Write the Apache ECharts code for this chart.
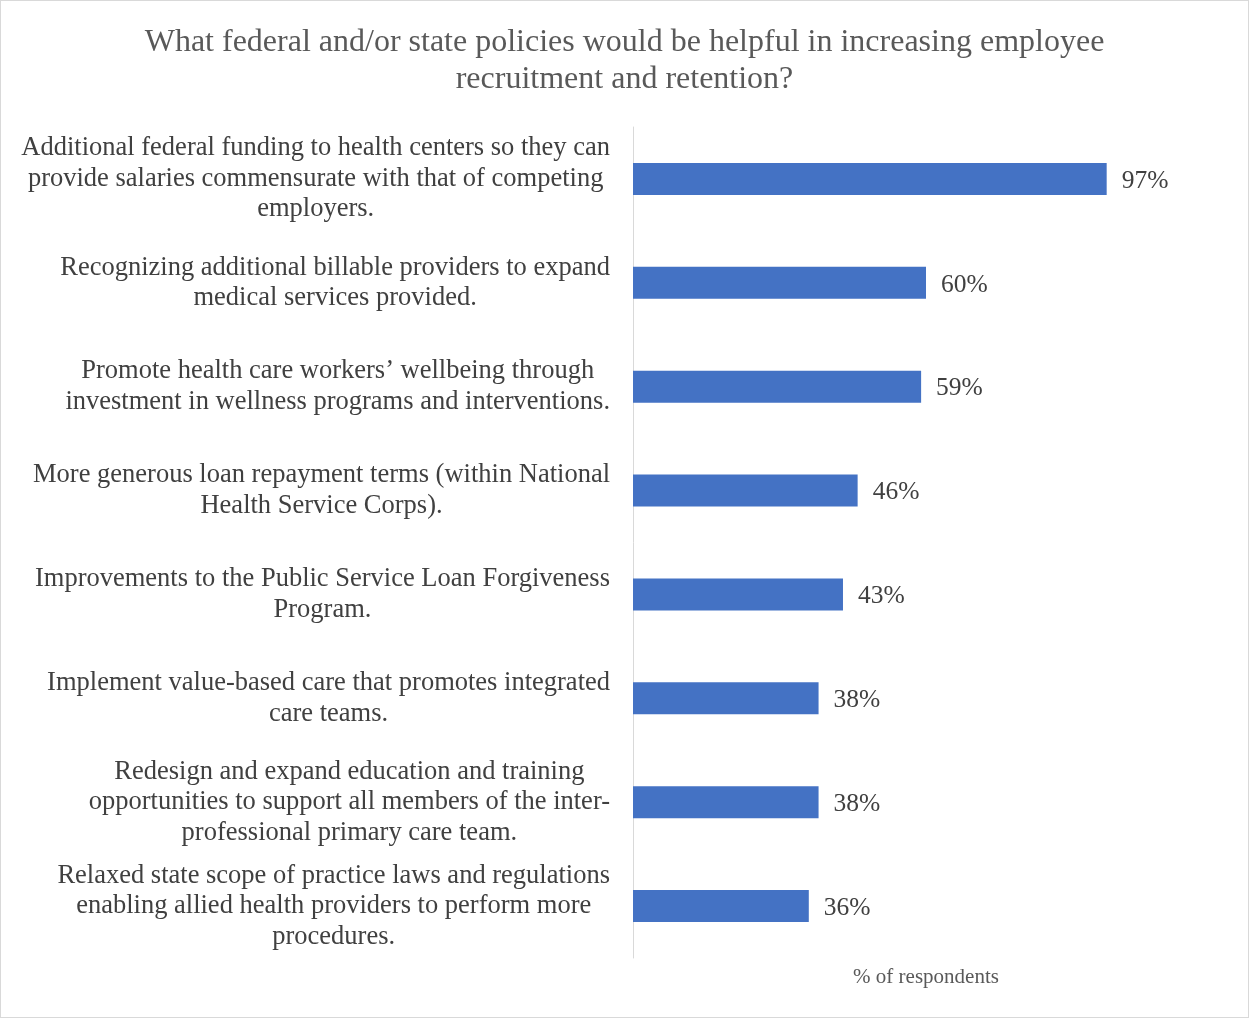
<!DOCTYPE html>
<html>
<head>
<meta charset="utf-8">
<script src="https://cdn.jsdelivr.net/npm/echarts@6/dist/echarts.min.js"></script>
<style>
    html, body { margin: 0; padding: 0; background: #ffffff; }
    #wrap { width: 1249px; height: 1018px; box-sizing: border-box; border: 1px solid #d9d9d9; }
    #chart { width: 1247px; height: 1016px; }
</style>
</head>
<body>
<div id="wrap"><div id="chart"></div></div>
<script>
// 分类（纵轴）
var categories = [
    'Additional federal funding to health centers so they can\nprovide salaries commensurate with that of competing\nemployers.',
    'Recognizing additional billable providers to expand\nmedical services provided.',
    'Promote health care workers\u2019 wellbeing through\ninvestment in wellness programs and interventions.',
    'More generous loan repayment terms (within National\nHealth Service Corps).',
    'Improvements to the Public Service Loan Forgiveness\nProgram.',
    'Implement value-based care that promotes integrated\ncare teams.',
    'Redesign and expand education and training\nopportunities to support all members of the inter-\nprofessional primary care team.',
    'Relaxed state scope of practice laws and regulations\nenabling allied health providers to perform more\nprocedures.'
];
// 百分比
var respondents = [97, 60, 59, 46, 43, 38, 38, 36];

var serif = '"Liberation Serif", "Times New Roman", serif';

var myChart = echarts.init(document.getElementById('chart'));
var option = {
    animation: false,
    title: {
        text: 'What federal and/or state policies would be helpful in increasing employee\nrecruitment and retention?',
        left: 'center',
        top: 18,
        textStyle: {
            fontFamily: serif,
            fontSize: 32,
            fontWeight: 'normal',
            color: '#595959',
            lineHeight: 37
        }
    },
    grid: {
        left: 632,
        right: 29,
        top: 126,
        bottom: 59,
        outerBoundsMode: 'none'
    },
    xAxis: {
        type: 'value',
        min: 0,
        max: 120,
        axisLine: {show: false},
        axisTick: {show: false},
        axisLabel: {show: false},
        splitLine: {show: false},
        name: '% of respondents',
        nameLocation: 'middle',
        nameGap: 9,
        nameTextStyle: {
            fontFamily: serif,
            fontSize: 21,
            color: '#595959'
        }
    },
    yAxis: {
        type: 'category',
        inverse: true,
        data: categories,
        axisLine: {
            show: true,
            lineStyle: {color: '#d9d9d9', width: 1}
        },
        axisTick: {show: false},
        axisLabel: {
            margin: 23,
            align: 'right',
            formatter: function (value) {
                // 每行居中
                return '{c|' + value + '}';
            },
            rich: {
                c: {
                    align: 'center',
                    fontFamily: serif,
                    fontSize: 26.5,
                    color: '#404040',
                    lineHeight: 30.5
                }
            }
        }
    },
    series: [
        {
            type: 'bar',
            data: respondents,
            barWidth: 32,
            itemStyle: {color: '#4472c4'},
            label: {
                show: true,
                position: 'right',
                distance: 15,
                formatter: '{c}%',
                fontFamily: serif,
                fontSize: 25.5,
                color: '#404040',
                offset: [0, 2]
            }
        }
    ]
};
myChart.setOption(option);
</script>
</body>
</html>
